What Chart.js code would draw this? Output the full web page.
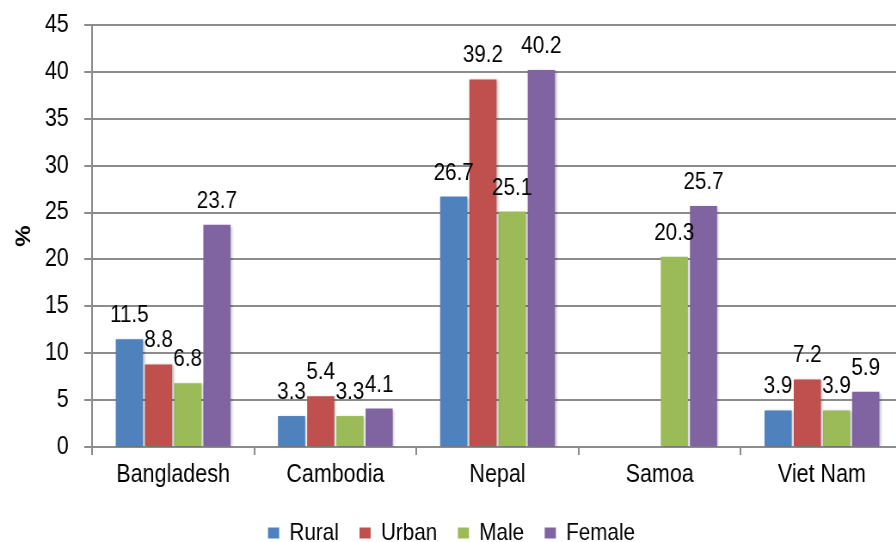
<!DOCTYPE html>
<html>
<head>
<meta charset="utf-8">
<script src="https://cdn.jsdelivr.net/npm/chart.js@4.4.1/dist/chart.umd.min.js"></script>
<style>
  html, body { margin: 0; padding: 0; background: #ffffff; overflow: hidden; }
  #wrap { width: 896px; height: 542px; overflow: hidden; position: relative; }
  /* the chart is laid out wider and squeezed horizontally for a condensed type look */
  #box { width: 1051px; height: 555px; position: absolute; left: 0; top: 0;
         transform: scaleX(0.86); transform-origin: 0 0; }
</style>
</head>
<body>
<div id="wrap"><div id="box"><canvas id="chart"></canvas></div></div>
<script>
// Countries on the category axis
const categories = ['Bangladesh', 'Cambodia', 'Nepal', 'Samoa', 'Viet Nam'];

// Percentages per group (null = not reported)
const rural  = [11.5, 3.3, 26.7, null, 3.9];
const urban  = [8.8, 5.4, 39.2, null, 7.2];
const male   = [6.8, 3.3, 25.1, 20.3, 3.9];
const female = [23.7, 4.1, 40.2, 25.7, 5.9];

const seriesNames = ['Rural', 'Urban', 'Male', 'Female'];
const seriesColors = ['#4F81BD', '#C0504D', '#9BBB59', '#8064A2'];

const yTicks = [0, 5, 10, 15, 20, 25, 30, 35, 40, 45];
const yTitle = '%';

const SQUEEZE = 0.86;
const FONT = "'Liberation Sans', Arial, sans-serif";
const GRID = '#8c8c8c';

// Soft drop shadow under the bars
const barShadow = {
  id: 'barShadow',
  beforeDatasetsDraw(chart) {
    const ctx = chart.ctx;
    ctx.save();
    ctx.shadowColor = 'rgba(0,0,0,0.28)';
    ctx.shadowBlur = 3;
    ctx.shadowOffsetX = 1.5;
    ctx.shadowOffsetY = 1;
  },
  afterDatasetsDraw(chart) {
    chart.ctx.restore();
  }
};

// Value labels above each bar
const valueLabels = {
  id: 'valueLabels',
  afterDatasetsDraw(chart) {
    const ctx = chart.ctx;
    ctx.save();
    ctx.font = '24px ' + FONT;
    ctx.fillStyle = '#000000';
    ctx.textAlign = 'center';
    ctx.textBaseline = 'alphabetic';
    chart.data.datasets.forEach((ds, di) => {
      const meta = chart.getDatasetMeta(di);
      meta.data.forEach((bar, i) => {
        const v = ds.data[i];
        if (v === null || v === undefined) return;
        ctx.fillText(v.toFixed(1), bar.x, bar.y - 17);
      });
    });
    ctx.restore();
  }
};

const datasets = [rural, urban, male, female].map((values, k) => ({
  label: seriesNames[k],
  data: values,
  backgroundColor: seriesColors[k],
  borderWidth: 0,
  barPercentage: 0.93,
  categoryPercentage: 0.72
}));

new Chart(document.getElementById('chart'), {
  type: 'bar',
  data: { labels: categories, datasets },
  plugins: [barShadow, valueLabels],
  options: {
    responsive: true,
    maintainAspectRatio: false,
    animation: false,
    layout: { padding: { top: 0, right: 1, left: 0, bottom: 0 } },
    plugins: {
      tooltip: { enabled: false },
      legend: {
        position: 'bottom',
        labels: {
          font: { family: FONT, size: 24 },
          color: '#000000',
          boxWidth: Math.round(11 / SQUEEZE),
          boxHeight: 11,
          padding: 24
        }
      }
    },
    scales: {
      x: {
        afterFit(scale) { scale.height = 50; },
        grid: {
          offset: true,
          drawOnChartArea: false,
          drawTicks: true,
          tickLength: 8,
          color: GRID,
          lineWidth: 2
        },
        border: { color: GRID, width: 2 },
        ticks: {
          font: { family: FONT, size: 25 },
          color: '#000000',
          padding: 5,
          maxRotation: 0
        }
      },
      y: {
        min: 0,
        max: 45,
        afterBuildTicks(scale) {
          scale.ticks = yTicks.map(v => ({ value: v }));
        },
        afterFit(scale) {
          scale.width = Math.round(92 / SQUEEZE);
          scale.paddingTop = 25;
          scale.paddingBottom = 0;
        },
        grid: {
          color: GRID,
          lineWidth: 2,
          tickLength: 9
        },
        border: { color: GRID, width: 2 },
        ticks: {
          font: { family: FONT, size: 25 },
          color: '#000000',
          padding: 18
        },
        title: {
          display: true,
          text: yTitle,
          font: { family: FONT, size: 24, weight: 'bold' },
          color: '#000000',
          padding: { top: 14, bottom: 0 }
        }
      }
    }
  }
});
</script>
</body>
</html>
